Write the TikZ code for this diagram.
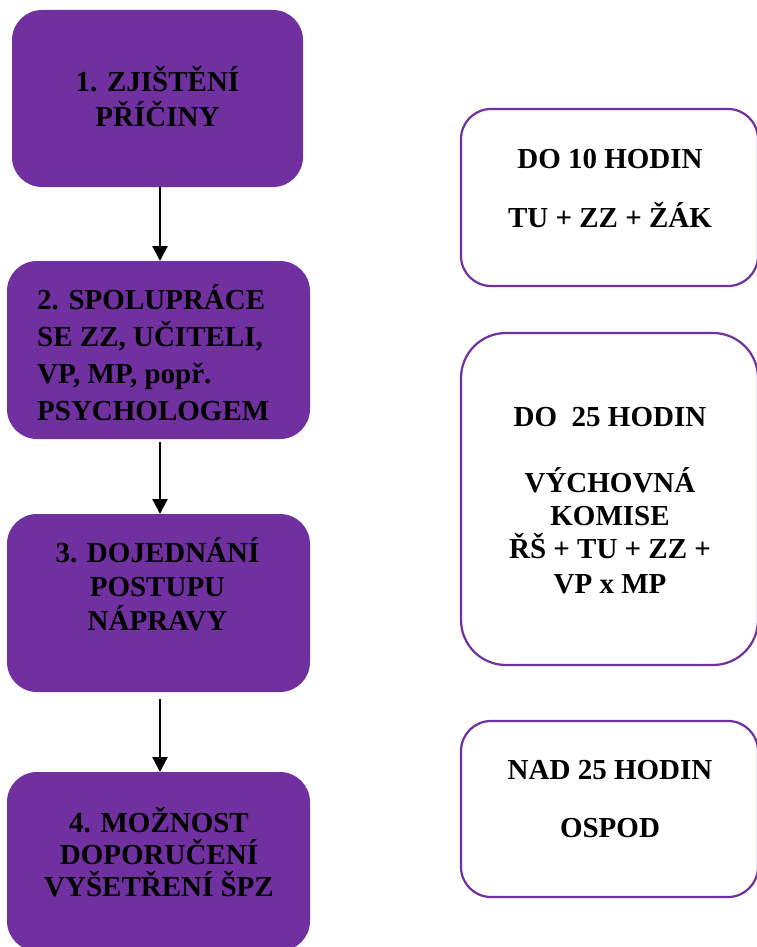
\documentclass[tikz,border=0pt]{standalone}
\usepackage{fontspec}
\setmainfont{Liberation Serif}
\usetikzlibrary{arrows.meta}
\definecolor{wpurple}{HTML}{7030A0}
\begin{document}
\begin{tikzpicture}[x=1pt,y=-1pt,
  pbox/.style={fill=wpurple, draw=none, rounded corners=30pt, inner sep=0pt, outer sep=0pt},
  wbox/.style={draw=wpurple, line width=2.2pt, fill=white, inner sep=0pt, outer sep=0pt},
  lbl/.style={anchor=base, inner sep=0pt, font=\fontsize{29}{35}\selectfont\bfseries},
  lbll/.style={lbl, anchor=base west},
  flow/.style={-{Triangle[length=15pt,width=15pt]}, line width=2.2pt}]
\useasboundingbox (0,0) rectangle (756,947);

% left purple boxes
\node[pbox, minimum width=291pt, minimum height=177pt] (b1) at (157.5,98.5) {};
\node[pbox, minimum width=303pt, minimum height=178pt] (b2) at (158.5,350) {};
\node[pbox, minimum width=303pt, minimum height=178pt] (b3) at (158.5,603) {};
\node[pbox, minimum width=303pt, minimum height=179pt] (b4) at (158.5,861.5) {};

% right white boxes
\node[wbox, rounded corners=30pt, minimum width=297pt, minimum height=177pt] (ra) at (609.5,197.5) {};
\node[wbox, rounded corners=45pt, minimum width=297pt, minimum height=332pt] (rb) at (609.5,499) {};
\node[wbox, rounded corners=30pt, minimum width=297pt, minimum height=176pt] (rc) at (609.5,809) {};

% texts box 1
\node[lbl] (t1a) at (157.5,92) {1. ZJIŠTĚNÍ};
\node[lbl] (t1b) at (157.5,127) {PŘÍČINY};
% box 2
\node[lbll] (t2a) at (37,309) {2. SPOLUPRÁCE};
\node[lbll] (t2b) at (37,346) {SE ZZ, UČITELI,};
\node[lbll] (t2c) at (37,383) {VP, MP, popř.};
\node[lbll] (t2d) at (37,420) {PSYCHOLOGEM};
% box 3
\node[lbl] (t3a) at (157.5,562) {3. DOJEDNÁNÍ};
\node[lbl] (t3b) at (157.5,596) {POSTUPU};
\node[lbl] (t3c) at (157.5,630) {NÁPRAVY};
% box 4
\node[lbl] (t4a) at (159,832) {4. MOŽNOST};
\node[lbl] (t4b) at (159,864) {DOPORUČENÍ};
\node[lbl] (t4c) at (159,896) {VYŠETŘENÍ ŠPZ};

% right texts
\node[lbl] (tra) at (610,168) {DO 10 HODIN};
\node[lbl] (trb) at (610,227) {TU + ZZ + ŽÁK};
\node[lbl] (trc) at (610,426) {DO\ \ 25 HODIN};
\node[lbl] (trd) at (610,492) {VÝCHOVNÁ};
\node[lbl] (tre) at (610,525) {KOMISE};
\node[lbl] (trf) at (610,558) {ŘŠ + TU + ZZ +};
\node[lbl] (trg) at (610,593) {VP x MP};
\node[lbl] (trh) at (610,779) {NAD 25 HODIN};
\node[lbl] (tri) at (610,837) {OSPOD};

% arrows
\draw[flow] ([xshift=2.5pt]b1.south) -- ([xshift=1.5pt]b2.north);
\draw[flow] ([xshift=1.5pt,yshift=-3pt]b2.south) -- ([xshift=1.5pt]b3.north);
\draw[flow] ([xshift=1.5pt,yshift=-7pt]b3.south) -- ([xshift=1.5pt]b4.north);
\end{tikzpicture}
\end{document}
